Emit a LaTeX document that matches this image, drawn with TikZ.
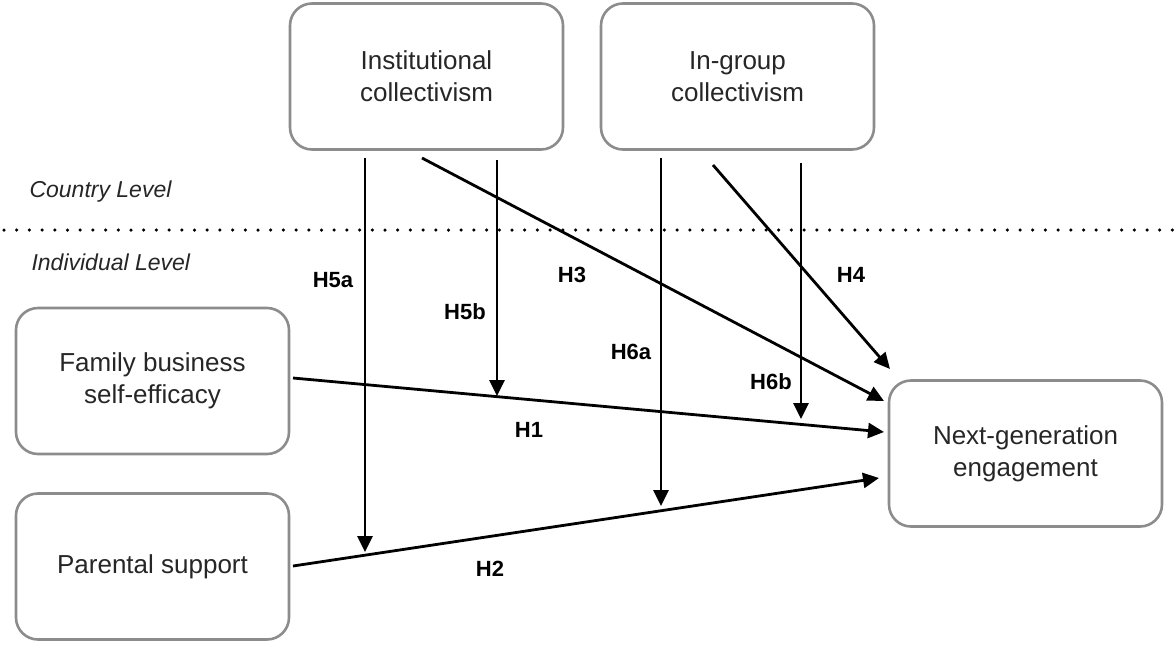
\documentclass[tikz,border=0pt]{standalone}
\usepackage{fontspec}
\setmainfont{Liberation Sans}
\usetikzlibrary{arrows.meta}
\definecolor{boxgray}{RGB}{140,140,140}
\begin{document}
\begin{tikzpicture}[x=1pt,y=-1pt,
  box/.style={draw=boxgray,line width=2.6pt,rounded corners=22pt,minimum width=273pt,minimum height=146pt,align=center,font=\fontsize{26}{32}\selectfont,text=black!85},
  conn/.style={line width=2.8pt,-{Triangle[length=16pt,width=15pt]}},
  hlab/.style={font=\fontsize{22}{24}\selectfont\bfseries},
  lvl/.style={font=\fontsize{23}{26}\selectfont\itshape,anchor=west,text=black!85}]
\useasboundingbox (0,0) rectangle (1176,646);
\node[box] (inst) at (426.5,76.5) {Institutional\\collectivism};
\node[box] (ingr) at (737.5,76.5) {In-group\\collectivism};
\node[box] (fam) at (152.5,381) {Family business\\self-efficacy};
\node[box] (par) at (152.5,566.5) {Parental support};
\node[box] (nge) at (1025.5,453.5) {Next-generation\\engagement};
% level separator
\coordinate (dl) at (4,230);
\coordinate (dr) at (1176,230);
\draw[line width=3.5pt,line cap=round,dash pattern=on 0pt off 12.7pt] (dl) -- (dr);
\node[lvl] (cl) at (26,192) {Country Level};
\node[lvl] (il) at (28,262) {Individual Level};
% coordinates
\coordinate (h1s) at (293,378);
\coordinate (h1e) at (884,432);
\coordinate (h2s) at (293,566);
\coordinate (h2e) at (879,478);
\coordinate (h5as) at (365,158);
\coordinate (h5ae) at (365,552);
\coordinate (h5bs) at (497,160);
\coordinate (h5be) at (497,396);
\coordinate (h6as) at (661,158);
\coordinate (h6ae) at (661,506);
\coordinate (h6bs) at (801,163);
\coordinate (h6be) at (801,419);
\coordinate (h3s) at (422,158);
\coordinate (h3e) at (884,401);
\coordinate (h4s) at (713,165);
\coordinate (h4e) at (890,369);
\draw[conn] (h1s) -- (h1e);
\draw[conn] (h2s) -- (h2e);
\draw[conn] (h5as) -- (h5ae);
\draw[conn] (h5bs) -- (h5be);
\draw[conn] (h6as) -- (h6ae);
\draw[conn] (h6bs) -- (h6be);
\draw[conn] (h3s) -- (h3e);
\draw[conn] (h4s) -- (h4e);
% labels
\node[hlab] (l5a) at (333,280) {H5a};
\node[hlab] (l5b) at (465,312) {H5b};
\node[hlab] (l3) at (572,275) {H3};
\node[hlab] (l4) at (851,275) {H4};
\node[hlab] (l6a) at (631,352) {H6a};
\node[hlab] (l6b) at (771,382) {H6b};
\node[hlab] (l1) at (529,430) {H1};
\node[hlab] (l2) at (490,569) {H2};
\end{tikzpicture}
\end{document}
